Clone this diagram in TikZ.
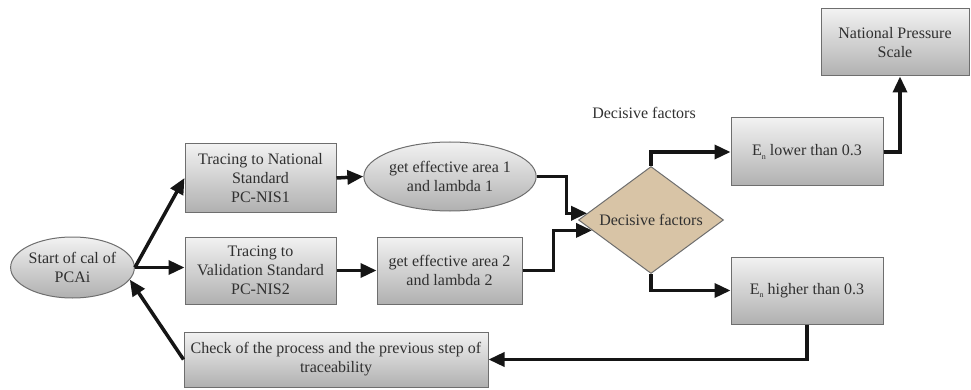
\documentclass[tikz,border=0pt]{standalone}
\usepackage{fontspec}
\setmainfont{Liberation Serif}
\usetikzlibrary{arrows.meta,shapes.geometric,calc}
\definecolor{txt}{HTML}{303030}
\definecolor{edge}{HTML}{6E6E6E}
\definecolor{boxtop}{HTML}{F2F2F2}
\definecolor{boxbot}{HTML}{B0B0B0}
\definecolor{tan}{HTML}{D8C4A6}
\definecolor{ink}{HTML}{151515}
\newcommand{\En}{E\raisebox{-3.5pt}{\fontsize{8}{8}\selectfont n}}
\begin{document}
\begin{tikzpicture}[x=1pt,y=-1pt,
  every node/.style={font=\fontsize{16}{19}\selectfont, text=txt, align=center, inner sep=0pt},
  box/.style={rectangle, draw=edge, line width=1pt, top color=boxtop, bottom color=boxbot},
  oval/.style={ellipse, draw=edge, line width=1pt, top color=boxtop, bottom color=boxbot},
  decide/.style={diamond, draw=edge, line width=1pt, fill=tan, shape aspect=1.355},
  conn/.style={draw=ink, line width=3.5pt, -{Triangle[length=16pt,width=14pt]}}
]
\useasboundingbox (0,0) rectangle (971,390);

% nodes
\node[oval, minimum width=123, minimum height=61] (start) at (72.5,267.5) {Start of cal of\\PCAi};
\node[box, minimum width=151, minimum height=68] (t1) at (260.5,178) {Tracing to National\\Standard\\PC-NIS1};
\node[box, minimum width=151, minimum height=67] (t2) at (260.5,270.5) {Tracing to\\Validation Standard\\PC-NIS2};
\node[box, minimum width=304, minimum height=55] (chk) at (336,359.5) {Check of the process and the previous step of\\traceability};
\node[oval, minimum width=146, minimum height=69] (g1) at (450,176.5) {get effective area 1\\and lambda 1};
\node[box, minimum width=145, minimum height=67] (g2) at (449.5,270.5) {get effective area 2\\and lambda 2};
\node[decide, minimum width=145, minimum height=107] (dec) at (651,220) {Decisive factors};
\node (declabel) at (644,113) {Decisive factors};
\node[box, minimum width=152, minimum height=68] (elow) at (807,152) {\En\ lower than 0.3};
\node[box, minimum width=152, minimum height=67] (ehigh) at (807,290.5) {\En\ higher than 0.3};
\node[box, minimum width=148, minimum height=67] (nps) at (895,42.5) {National Pressure\\Scale};

% connectors
\draw[conn] (start.east) -- (t1.west);
\draw[conn] (start.east) -- (start.east -| t2.west);
\draw[conn] (chk.west) -- (start.-12);
\draw[conn] (t1.east) -- (g1.west);
\draw[conn] (t2.east) -- (g2.west);
\draw[conn] (g1.east) -- ++(30,0) |- (dec.174);
\draw[conn] (g2.east) -- ++(31,0) |- (dec.190);
\draw[conn] (dec.north) |- (elow.west);
\draw[conn] (dec.south) |- (ehigh.west);
\draw[conn] (elow.east) -| ([xshift=5]nps.south);
\draw[conn] (ehigh.south) |- (chk.east);
\end{tikzpicture}
\end{document}
